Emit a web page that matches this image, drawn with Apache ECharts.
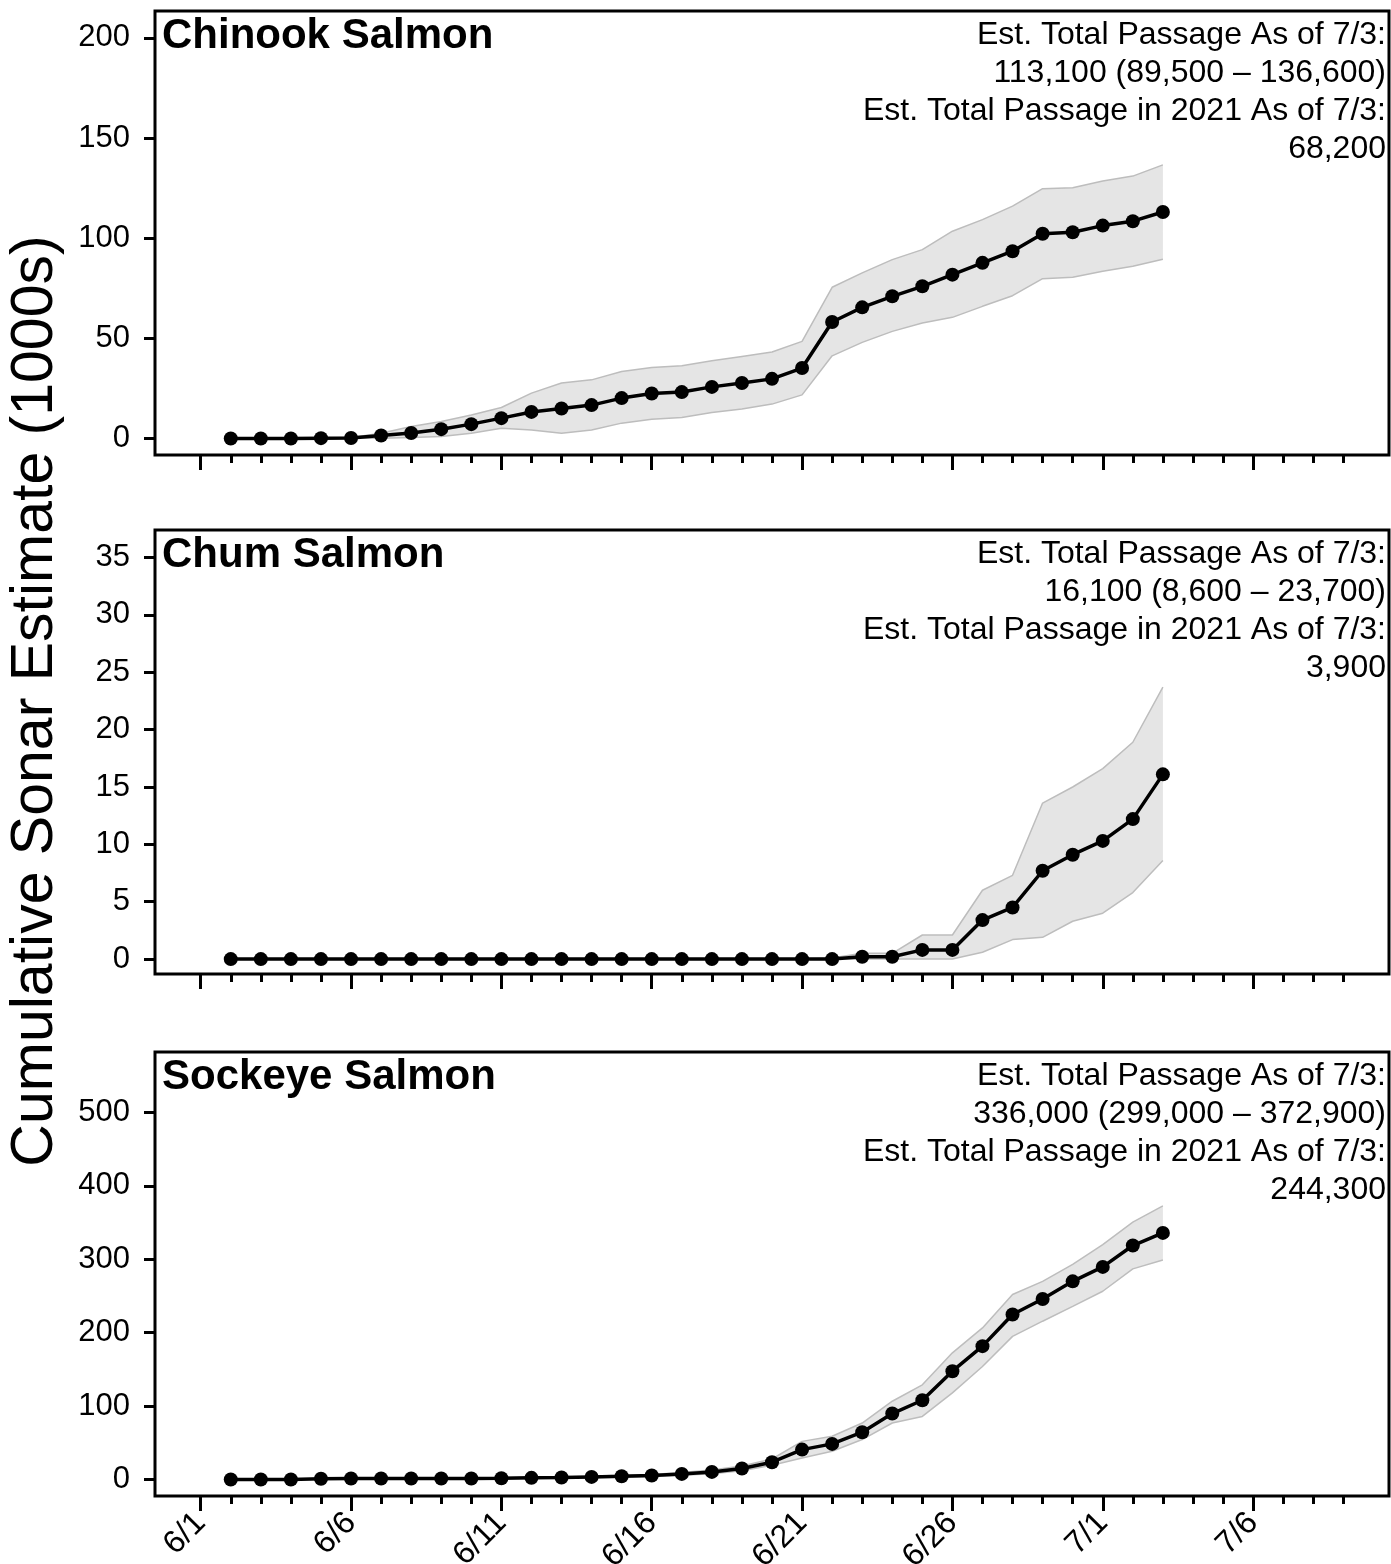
<!DOCTYPE html>
<html>
<head>
<meta charset="UTF-8">
<title>Cumulative Sonar Estimate</title>
<script src="https://cdn.jsdelivr.net/npm/echarts@6/dist/echarts.min.js"></script>
<style>html,body{margin:0;background:#fff}</style>
</head>
<body>
<div id="main" style="width:1391px;height:1564px"></div>
<script type="text/javascript">
    // daily dates with estimates
    var dates = ['6/2','6/3','6/4','6/5','6/6','6/7','6/8','6/9','6/10','6/11','6/12','6/13','6/14','6/15','6/16','6/17',
        '6/18','6/19','6/20','6/21','6/22','6/23','6/24','6/25','6/26','6/27','6/28','6/29','6/30','7/1','7/2','7/3'];
    var tickLabels = ['6/1','6/6','6/11','6/16','6/21','6/26','7/1','7/6'];

    // cumulative estimates in 1000s
    var chinook = [0,0,0,0.2,0.3,1.5,2.8,4.7,7.2,10.2,13.3,15,16.7,20.2,22.5,23.2,25.8,27.7,29.8,35.2,58.2,65.5,71,76,81.8,87.7,93.5,102.2,103,106.3,108.5,113.1];
    var chinookHi = [0,0,0,0.3,0.6,2.7,6,8.5,11.8,15.5,22.7,27.7,29.3,33.5,35.5,36.3,38.8,41,43.2,48.5,75.5,82.7,89.3,94.3,103.5,109.3,116,124.7,125.2,128.5,131,136.6];
    var chinookLo = [0,0,0,0.1,0.1,0.2,0.5,1,2.7,5.2,4.3,2.7,4.3,7.7,9.7,10.5,13,14.8,17.2,21.8,41.3,48,53.5,57.7,60.5,66,71.3,79.8,80.5,83.5,86,89.5];

    var chum = [0,0,0,0,0,0,0,0,0,0,0,0,0,0,0,0,0,0,0,0,0,0.2,0.2,0.8,0.8,3.4,4.5,7.7,9.1,10.3,12.2,16.1];
    var chumHi = [0,0,0,0,0,0,0,0,0,0,0,0,0,0,0,0,0,0,0,0,0.1,0.5,0.5,2.1,2.1,6,7.3,13.6,15,16.6,18.9,23.7];
    var chumLo = [0,0,0,0,0,0,0,0,0,0,0,0,0,0,0,0,0,0,0,0,0,0,0,0,0,0.6,1.7,1.9,3.3,4,5.8,8.6];

    var sockeye = [0,0,0,1,1.4,1.4,1.4,1.4,1.4,1.8,2.3,2.7,3.6,4.5,5.5,7.7,10.4,15,23.6,40.8,48.6,64.5,89.9,108,147.6,181.7,224.8,246,270,289.7,318.8,336];
    var sockeyeHi = [0.5,0.5,0.5,1.5,2,2,2,2,2,2.5,3,3.5,4.5,5.8,7,9.5,13,18.5,28,52,59,77,106.7,129,172.6,206.6,252,270,293,320,350.6,372.9];
    var sockeyeLo = [0,0,0,0.5,0.9,0.9,0.9,0.9,0.9,1.2,1.6,2,2.7,3.3,4,6,8,12,19.5,29.5,38.6,54.5,77,86,118,154,195,215.7,236,256.5,287,299];

    var names = ['Chinook Salmon','Chum Salmon','Sockeye Salmon'];
    var notes = [
        'Est. Total Passage As of 7/3:\n113,100 (89,500 \u2013 136,600)\nEst. Total Passage in 2021 As of 7/3:\n68,200',
        'Est. Total Passage As of 7/3:\n16,100 (8,600 \u2013 23,700)\nEst. Total Passage in 2021 As of 7/3:\n3,900',
        'Est. Total Passage As of 7/3:\n336,000 (299,000 \u2013 372,900)\nEst. Total Passage in 2021 As of 7/3:\n244,300'
    ];
    var yTicks = [[0,50,100,150,200],[0,5,10,15,20,25,30,35],[0,100,200,300,400,500]];
    var yRange = [[-8.2,213.4],[-1.3,37.4],[-22.4,582.4]];

    var FONT = "'Liberation Sans', Arial, sans-serif";

    function dayIdx(s) {
        var p = s.split('/');
        return p[0] == '6' ? +p[1] - 1 : 29 + (+p[1]);
    }
    var allDays = [];
    for (var d = 0; d <= 38; d++) allDays.push(d);
    var majorDays = tickLabels.map(dayIdx);

    function pairs(arr) {
        return arr.map(function (v, i) { return [dayIdx(dates[i]), v]; });
    }

    // shaded band between lo and hi, one polygon through the axis scales
    function bandRender(hi, lo) {
        return function (params, api) {
            if (params.dataIndex !== 0) return null;
            var pts = [];
            for (var i = 0; i < hi.length; i++) pts.push(api.coord([dayIdx(dates[i]), hi[i]]));
            for (var j = lo.length - 1; j >= 0; j--) pts.push(api.coord([dayIdx(dates[j]), lo[j]]));
            return {type: 'polygon', shape: {points: pts}, style: {fill: '#e5e5e5'}};
        };
    }

    var panels = [
        {mean: chinook, hi: chinookHi, lo: chinookLo, top: 11, height: 444},
        {mean: chum, hi: chumHi, lo: chumLo, top: 530, height: 444},
        {mean: sockeye, hi: sockeyeHi, lo: sockeyeLo, top: 1052, height: 444}
    ];

    var grid = [], xAxis = [], yAxis = [], series = [], graphic = [];
    panels.forEach(function (p, k) {
        grid.push({
            left: 155, right: 2, top: p.top, height: p.height,
            outerBoundsMode: 'none', containLabel: false,
            show: true, borderColor: '#000', borderWidth: 3, backgroundColor: 'transparent'
        });
        // every day
        xAxis.push({
            type: 'value', gridIndex: k, position: 'bottom', min: -1.52, max: 39.52,
            axisLine: {show: false, onZero: false},
            axisTick: {show: true, customValues: allDays, length: 8, lineStyle: {color: '#000', width: 3}},
            axisLabel: {show: false},
            splitLine: {show: false}
        });
        // every fifth day, labels on bottom panel only
        xAxis.push({
            type: 'value', gridIndex: k, position: 'bottom', min: -1.52, max: 39.52,
            axisLine: {show: false, onZero: false},
            axisTick: {show: true, customValues: majorDays, length: 15, lineStyle: {color: '#000', width: 3}},
            axisLabel: {
                show: k == 2, customValues: majorDays, rotate: 45, margin: 22,
                fontSize: 32, color: '#000', fontFamily: FONT,
                formatter: function (v) { return tickLabels[majorDays.indexOf(v)]; }
            },
            splitLine: {show: false}
        });
        yAxis.push({
            type: 'value', gridIndex: k, min: yRange[k][0], max: yRange[k][1],
            axisLine: {show: false, onZero: false},
            axisTick: {show: true, customValues: yTicks[k], length: 11, lineStyle: {color: '#000', width: 3}},
            axisLabel: {customValues: yTicks[k], fontSize: 31, color: '#000', fontFamily: FONT, margin: 25},
            splitLine: {show: false}
        });
        series.push({
            type: 'custom', xAxisIndex: k * 2, yAxisIndex: k,
            data: pairs(p.hi), encode: {x: 0, y: 1},
            renderItem: bandRender(p.hi, p.lo), z: 1, silent: true
        });
        series.push({
            type: 'line', xAxisIndex: k * 2, yAxisIndex: k,
            data: pairs(p.lo), symbol: 'none',
            lineStyle: {color: '#bdbdbd', width: 1.5}, z: 2
        });
        series.push({
            type: 'line', xAxisIndex: k * 2, yAxisIndex: k,
            data: pairs(p.hi), symbol: 'none',
            lineStyle: {color: '#bdbdbd', width: 1.5}, z: 2
        });
        series.push({
            type: 'line', xAxisIndex: k * 2, yAxisIndex: k,
            data: pairs(p.mean), symbol: 'circle', symbolSize: 14,
            itemStyle: {color: '#000'},
            lineStyle: {color: '#000', width: 3.5}, z: 3
        });
        graphic.push({
            type: 'text', x: 162, y: p.top + 4,
            style: {text: names[k], font: 'bold 42px ' + FONT, fill: '#000'}
        });
        graphic.push({
            type: 'text', x: 1386, y: p.top + 5,
            style: {text: notes[k], font: '32px ' + FONT, fill: '#000', align: 'right', lineHeight: 38}
        });
    });

    graphic.push({
        type: 'text', x: 36, y: 701, rotation: Math.PI / 2,
        style: {text: 'Cumulative Sonar Estimate (1000s)', font: '59px ' + FONT, fill: '#000',
            align: 'center', verticalAlign: 'middle'}
    });

    var option = {
        animation: false,
        backgroundColor: '#fff',
        grid: grid,
        xAxis: xAxis,
        yAxis: yAxis,
        series: series,
        graphic: graphic
    };

    var myChart = echarts.init(document.getElementById('main'));
    myChart.setOption(option);
</script>
</body>
</html>
